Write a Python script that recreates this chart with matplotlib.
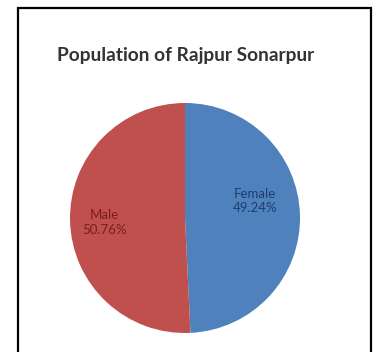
import matplotlib.pyplot as plt
from matplotlib.patches import Rectangle

# Sex ratio of Rajpur Sonarpur population
categories = ["Female", "Male"]
shares = [49.24, 50.76]
colors = ["#4F81BD", "#C0504D"]
text_colors = ["#1F3D6B", "#7A1E1C"]

W, H = 373, 352
fig = plt.figure(figsize=(W / 100, H / 100), dpi=100)
fig.patch.set_facecolor("white")

# frame around the chart area (open at the bottom edge)
fig.add_artist(Rectangle((18 / W, -0.05), (371 - 18) / W, (H - 8) / H + 0.05,
                         transform=fig.transFigure, fill=False,
                         edgecolor="black", linewidth=1.6))

cx, cy, r = 185, H - 218, 115
ax = fig.add_axes([(cx - r) / W, (cy - r) / H, 2 * r / W, 2 * r / H])
ax.pie(shares, colors=colors, startangle=90, counterclock=False,
       radius=1.0, wedgeprops=dict(linewidth=0))
ax.set_xlim(-1, 1)
ax.set_ylim(-1, 1)
ax.set_aspect("equal")
ax.axis("off")

label_pos = [(0.61, 0.15), (-0.70, -0.04)]
for name, val, (x, y), tc in zip(categories, shares, label_pos, text_colors):
    ax.text(x, y, f"{name}\n{val:.2f}%", ha="center", va="center",
            fontsize=9.5, color=tc, family="Lato", linespacing=1.25)

fig.text(186 / W, 1 - 56 / H, "Population of Rajpur Sonarpur",
         ha="center", va="center", fontsize=13.8, fontweight="bold",
         family="Lato", color="#333333")

fig.savefig("out.png", dpi=100)
